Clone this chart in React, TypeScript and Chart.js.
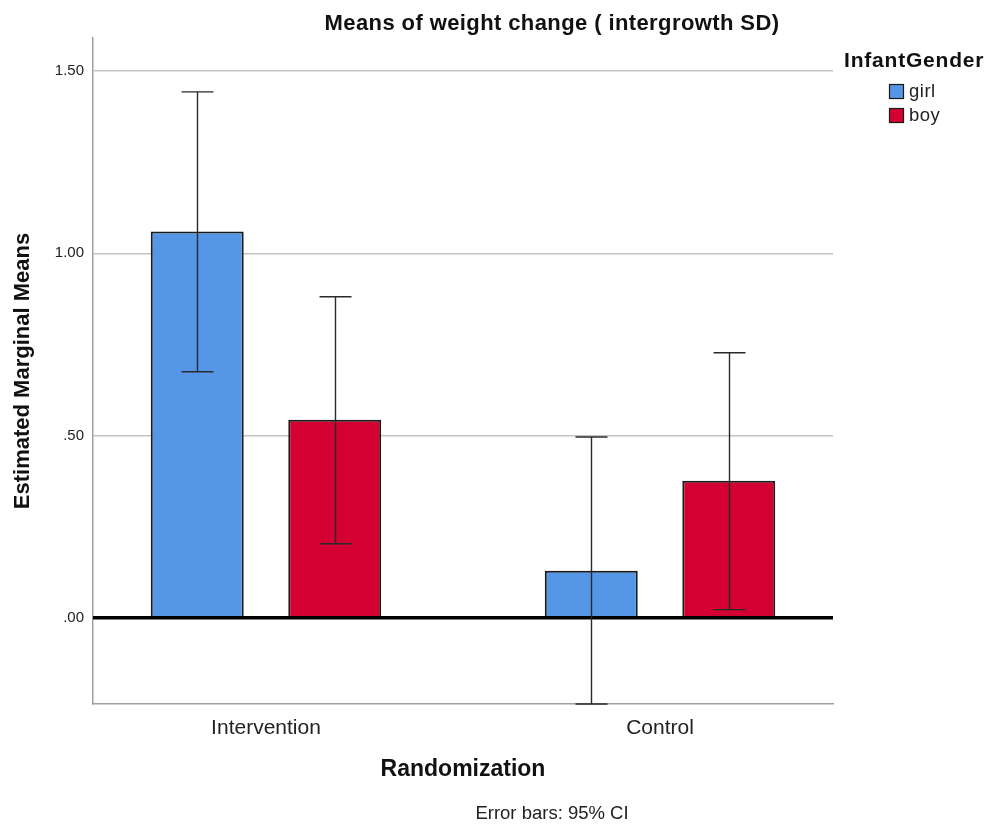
import React, { useEffect, useRef } from "react";
import { Chart, registerables } from "chart.js";

Chart.register(...registerables);

const categories = ["Intervention", "Control"];
const seriesNames = ["girl", "boy"];
const girlMeans = [1.06, 0.129];
const boyMeans = [0.543, 0.376];
const girlLower = [0.675, -0.237];
const girlUpper = [1.443, 0.496];
const boyLower = [0.203, 0.022];
const boyUpper = [0.881, 0.727];
const yTicks = [0, 0.5, 1.0, 1.5];
const yMin = -0.237;
const yMax = 1.591;
const xMin = -0.439;
const xMax = 1.439;

const FONT = "'Liberation Sans', Arial, sans-serif";
const colors = ["#5596e6", "#d50032"];

const lowers = [girlLower, boyLower];
const uppers = [girlUpper, boyUpper];

const extrasPlugin = {
  id: "extras",
  afterDatasetsDraw(chart: any) {
    const ctx = chart.ctx;
    const ys = chart.scales.y;
    const area = chart.chartArea;
    const y0 = ys.getPixelForValue(0);
    ctx.save();
    ctx.strokeStyle = "#000";
    ctx.lineWidth = 3.5;
    ctx.beginPath();
    ctx.moveTo(area.left, y0);
    ctx.lineTo(area.right, y0);
    ctx.stroke();
    ctx.strokeStyle = "#2a2a2a";
    ctx.lineWidth = 1.4;
    chart.data.datasets.forEach((ds: any, i: number) => {
      const meta = chart.getDatasetMeta(i);
      meta.data.forEach((bar: any, j: number) => {
        const x = Math.round(bar.x) + 0.5;
        const yt = ys.getPixelForValue(uppers[i][j]);
        const yb = ys.getPixelForValue(lowers[i][j]);
        const half = bar.width * 0.172;
        ctx.beginPath();
        ctx.moveTo(x, yt);
        ctx.lineTo(x, yb);
        ctx.moveTo(x - half, yt);
        ctx.lineTo(x + half, yt);
        ctx.moveTo(x - half, yb);
        ctx.lineTo(x + half, yb);
        ctx.stroke();
      });
    });
    ctx.restore();
  },
  afterDraw(chart: any) {
    const ctx = chart.ctx;
    const area = chart.chartArea;
    ctx.save();
    ctx.fillStyle = "#111";
    ctx.font = `bold 22px ${FONT}`;
    ctx.textAlign = "center";
    ctx.textBaseline = "alphabetic";
    (ctx as any).letterSpacing = "0.4px";
    ctx.fillText("Means of weight change ( intergrowth SD)", 552, 30);
    (ctx as any).letterSpacing = "0px";
    ctx.font = `18.5px ${FONT}`;
    ctx.fillStyle = "#222";
    ctx.fillText("Error bars: 95% CI", 552, 819);
    ctx.textAlign = "left";
    ctx.fillStyle = "#111";
    ctx.font = `bold 21px ${FONT}`;
    (ctx as any).letterSpacing = "0.8px";
    ctx.fillText("InfantGender", area.right + 11, 67);
    (ctx as any).letterSpacing = "0.5px";
    ctx.font = `18.5px ${FONT}`;
    ctx.textBaseline = "middle";
    chart.data.datasets.forEach((ds: any, i: number) => {
      const by = 84 + i * 24;
      ctx.fillStyle = ds.backgroundColor;
      ctx.fillRect(889, by, 14, 14);
      ctx.strokeStyle = "#1a1a1a";
      ctx.lineWidth = 1.2;
      ctx.strokeRect(889.5, by + 0.5, 14, 14);
      ctx.fillStyle = "#222";
      ctx.fillText(ds.label, 909, by + 8);
    });
    ctx.restore();
  },
};

export default function App() {
  const ref = useRef<HTMLCanvasElement | null>(null);
  useEffect(() => {
    document.body.style.margin = "0";
    const ctx = ref.current!.getContext("2d")!;
    const chart = new Chart(ctx, {
      type: "bar",
      data: {
        datasets: [
          {
            label: seriesNames[0],
            data: girlMeans.map((v, i) => ({ x: i, y: v })),
            backgroundColor: colors[0],
            borderColor: "#1a1a1a",
            borderWidth: 2,
            categoryPercentage: 0.698,
            barPercentage: 0.676,
          },
          {
            label: seriesNames[1],
            data: boyMeans.map((v, i) => ({ x: i, y: v })),
            backgroundColor: colors[1],
            borderColor: "#1a1a1a",
            borderWidth: 2,
            categoryPercentage: 0.698,
            barPercentage: 0.676,
          },
        ],
      },
      options: {
        animation: false,
        responsive: false,
        maintainAspectRatio: false,
        layout: { padding: { top: 38, right: 156, left: 0, bottom: 0 } },
        plugins: {
          legend: { display: false },
          title: { display: false },
          tooltip: { enabled: false },
        },
        scales: {
          x: {
            type: "linear",
            offset: false,
            min: xMin,
            max: xMax,
            afterBuildTicks: (scale: any) => {
              scale.ticks = categories.map((_, i) => ({ value: i }));
            },
            afterFit: (scale: any) => {
              scale.height = 121;
            },
            grid: { display: false, drawTicks: false, offset: false },
            border: { display: true, color: "#a0a0a0", width: 1.5 },
            ticks: {
              padding: 12,
              color: "#222",
              font: { family: FONT, size: 21 },
              callback: (v: any) => categories[Math.round(v)] ?? "",
            },
            title: {
              display: true,
              text: "Randomization",
              color: "#111",
              font: { family: FONT, size: 23, weight: "bold" },
              padding: { top: 0, bottom: 42 },
            },
          },
          y: {
            min: yMin,
            max: yMax,
            afterBuildTicks: (scale: any) => {
              scale.ticks = yTicks.map((v) => ({ value: v }));
            },
            afterFit: (scale: any) => {
              scale.width = 93;
            },
            grid: {
              drawTicks: false,
              color: (c: any) => (c.tick && c.tick.value === 0 ? "rgba(0,0,0,0)" : "#c4c4c4"),
              lineWidth: 1.5,
            },
            border: { display: true, color: "#a0a0a0", width: 1.5 },
            ticks: {
              padding: 9,
              color: "#222",
              font: { family: FONT, size: 15 },
              callback: (v: any) => Number(v).toFixed(2).replace(/^0/, ""),
            },
            title: {
              display: true,
              text: "Estimated Marginal Means",
              color: "#111",
              font: { family: FONT, size: 22, weight: "bold" },
              padding: { top: 10, bottom: 0 },
            },
          },
        },
      },
      plugins: [extrasPlugin],
    } as any);
    return () => chart.destroy();
  }, []);
  return (
    <div style={{ width: 989, height: 825, position: "relative", background: "#fff" }}>
      <canvas ref={ref} width={989} height={825} style={{ display: "block" }} />
    </div>
  );
}
